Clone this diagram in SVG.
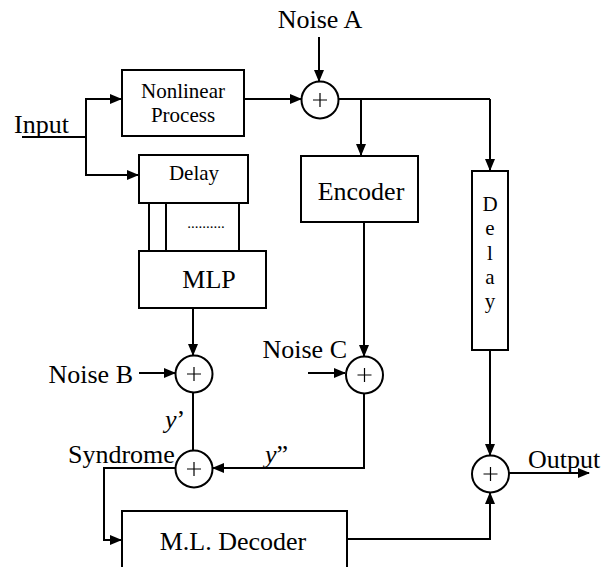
<svg xmlns="http://www.w3.org/2000/svg" width="602" height="567" viewBox="0 0 602 567">
<style>
text{font-family:"Liberation Serif","Times New Roman",serif;fill:#000}
.L{font-size:26px}
.S{font-size:21px}
.box{fill:#fff;stroke:#000;stroke-width:2}
.c{fill:#fff;stroke:#000;stroke-width:2}
.w{fill:none;stroke:#000;stroke-width:2}
.a{fill:none;stroke:#000;stroke-width:2;marker-end:url(#ah)}
.plus{fill:none;stroke:#000;stroke-width:1.2}
</style>
<defs>
<marker id="ah" markerUnits="userSpaceOnUse" markerWidth="12" markerHeight="10" refX="11" refY="5" orient="auto">
<path d="M0,0 L12,5 L0,10 Z" fill="#000"/>
</marker>
</defs>
<g id="connectors">
<line class="w" x1="22" y1="137" x2="86" y2="137"/>
<polyline class="a" points="86,137 86,99 121,99"/>
<polyline class="a" points="86,137 86,175 138,175"/>
<line class="a" x1="245" y1="99" x2="301" y2="99"/>
<line class="a" x1="319" y1="37" x2="319" y2="81"/>
<polyline class="w" points="338,99 490,99"/>
<line class="a" x1="361" y1="99" x2="361" y2="155"/>
<line class="a" x1="490" y1="99" x2="490" y2="170"/>
<line class="w" x1="149" y1="203" x2="149" y2="251"/>
<line class="w" x1="166" y1="203" x2="166" y2="251"/>
<line class="w" x1="239" y1="203" x2="239" y2="251"/>
<line class="a" x1="193" y1="308" x2="193" y2="355"/>
<line class="a" x1="139" y1="373" x2="175" y2="373"/>
<line class="w" x1="193" y1="392" x2="193" y2="450"/>
<line class="a" x1="364" y1="222" x2="364" y2="356"/>
<line class="a" x1="308" y1="373" x2="345" y2="373"/>
<polyline class="a" points="364,393 364,468 213,468"/>
<polyline class="a" points="176,468 104,468 104,540 121,540"/>
<line class="a" x1="490" y1="350" x2="490" y2="455"/>
<polyline class="a" points="347,539 490,539 490,493"/>
<line class="a" x1="509" y1="473" x2="589" y2="473"/>
</g>
<g id="input"><text class="L" x="14" y="133">Input</text></g>
<g id="noiseA"><text class="L" x="320" y="28" text-anchor="middle">Noise A</text></g>
<g id="nonlinear">
<rect class="box" x="122" y="70" width="122" height="66"/>
<text class="S" x="183" y="98" text-anchor="middle">Nonlinear</text>
<text class="S" x="183" y="122" text-anchor="middle">Process</text>
</g>
<g id="sumA">
<circle class="c" cx="320" cy="100" r="18.5"/>
<path class="plus" d="M313,100 H327 M320,93 V107"/>
</g>
<g id="delay1">
<rect class="box" x="139" y="155" width="109" height="48"/>
<text class="S" x="194" y="180" text-anchor="middle">Delay</text>
</g>
<g id="dots"><text x="206" y="228" font-size="15" text-anchor="middle">..........</text></g>
<g id="mlp">
<rect class="box" x="139" y="251" width="127" height="57"/>
<text class="L" x="209" y="288" text-anchor="middle">MLP</text>
</g>
<g id="encoder">
<rect class="box" x="301" y="156" width="117" height="66"/>
<text class="L" x="361" y="200" text-anchor="middle">Encoder</text>
</g>
<g id="delay2">
<rect class="box" x="472" y="171" width="36" height="179"/>
<text class="S" x="490" y="211" text-anchor="middle">D</text>
<text class="S" x="490" y="235" text-anchor="middle">e</text>
<text class="S" x="490" y="260" text-anchor="middle">l</text>
<text class="S" x="490" y="284" text-anchor="middle">a</text>
<text class="S" x="490" y="308" text-anchor="middle">y</text>
</g>
<g id="noiseB"><text class="L" x="133" y="383" text-anchor="end">Noise B</text></g>
<g id="sumB">
<circle class="c" cx="194" cy="374" r="18.5"/>
<path class="plus" d="M187,374 H201 M194,367 V381"/>
</g>
<g id="noiseC"><text class="L" x="347" y="358" text-anchor="end">Noise C</text></g>
<g id="sumC">
<circle class="c" cx="364.5" cy="375" r="18.5"/>
<path class="plus" d="M357.5,375 H371.5 M364.5,368 V382"/>
</g>
<g id="yprime"><text class="L" x="165" y="428"><tspan font-style="italic">y</tspan>’</text></g>
<g id="ydprime"><text class="L" x="265" y="463"><tspan font-style="italic">y</tspan>”</text></g>
<g id="syndrome"><text class="L" x="68" y="463">Syndrome</text></g>
<g id="sumS">
<circle class="c" cx="194" cy="469" r="18.5"/>
<path class="plus" d="M187,469 H201 M194,462 V476"/>
</g>
<g id="decoder">
<rect class="box" x="122" y="511" width="225" height="80"/>
<text class="L" x="233" y="550" text-anchor="middle">M.L. Decoder</text>
</g>
<g id="sumOut">
<circle class="c" cx="490.5" cy="474" r="18.5"/>
<path class="plus" d="M483.5,474 H497.5 M490.5,467 V481"/>
</g>
<g id="output"><text class="L" x="528" y="468">Output</text></g>
</svg>
